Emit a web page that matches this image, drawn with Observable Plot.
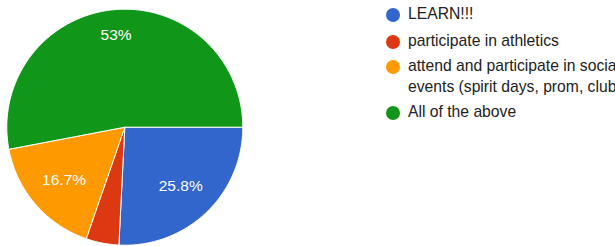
<!DOCTYPE html>
<html>
<head>
<meta charset="utf-8">
<script src="https://cdn.jsdelivr.net/npm/d3@7"></script>
<script src="https://cdn.jsdelivr.net/npm/@observablehq/plot@0.6"></script>
<style>
  html, body { margin: 0; padding: 0; background: #fff; overflow: hidden; }
  #wrap { position: relative; width: 615px; height: 246px; overflow: hidden; font-family: Arial, "Liberation Sans", sans-serif; }
  #chart { position: absolute; left: 0; top: 0; }
  .leg { position: absolute; left: 385px; white-space: nowrap; color: #222; font-size: 15.7px; line-height: 20.6px; }
  .leg .sw { position: absolute; left: 1px; top: 3.3px; width: 14px; height: 14px; border-radius: 50%; }
  .leg .tx { position: absolute; left: 23px; top: 0; }
</style>
</head>
<body>
<div id="wrap"><div id="chart"></div></div>
<script>
const categories = ["LEARN!!!", "participate in athletics", "attend and participate in social events (spirit days, prom, clubs)", "All of the above"];
const legendLines = [["LEARN!!!"], ["participate in athletics"], ["attend and participate in social", "events (spirit days, prom, clubs)"], ["All of the above"]];
const percents = [25.8, 4.5, 16.7, 53];
const colors = ["#3366cc", "#dc3912", "#ff9900", "#109618"];

const cx = 124.3, cy = 126.7, R = 118;
const labelFont = "15.5px Arial, 'Liberation Sans', sans-serif";

// build slice polygons (unit circle coords), clockwise from east
const total = d3.sum(percents);
const polys = [];
const labelData = [];
let a = 90;
const ctx = document.createElement("canvas").getContext("2d");
ctx.font = labelFont;
categories.forEach((c, i) => {
  const span = percents[i] / total * 360;
  const a0 = a, a1 = a + span;
  const n = Math.max(2, Math.ceil(span));
  polys.push({category: c, x: 0, y: 0, k: i});
  for (let j = 0; j <= n; j++) {
    const t = (a0 + (a1 - a0) * j / n) * Math.PI / 180;
    polys.push({category: c, x: Math.sin(t), y: Math.cos(t), k: i});
  }
  polys.push({category: c, x: 0, y: 0, k: i});
  if (percents[i] >= 5) {
    const text = `${percents[i]}%`;
    const mid = (a0 + a1) / 2 * Math.PI / 180;
    const ux = Math.sin(mid), uy = -Math.cos(mid); // screen direction
    const w = ctx.measureText(text).width, h = 11;
    const vx = Math.sign(ux) * w / 2, vy = Math.sign(uy) * h / 2;
    const T = 0.856 * R;
    const uv = ux * vx + uy * vy;
    const d = -uv + Math.sqrt(uv * uv - (vx * vx + vy * vy) + T * T);
    labelData.push({text, x: d * ux / R, y: -d * uy / R});
  }
  a = a1;
});

const plot = Plot.plot({
  width: 615,
  height: 246,
  margin: 0,
  x: {domain: [-1, 1], range: [cx - R, cx + R], axis: null},
  y: {domain: [-1, 1], range: [cy + R, cy - R], axis: null},
  color: {domain: categories, range: colors},
  style: {background: "white"},
  marks: [
    Plot.line(polys, {x: "x", y: "y", z: "k", fill: "category", stroke: "white", strokeWidth: 1, curve: "linear", strokeLinejoin: "miter"}),
    Plot.text(labelData, {x: "x", y: "y", text: "text", fill: "white", fontSize: 15.5, fontFamily: "Arial, 'Liberation Sans', sans-serif"})
  ]
});
document.getElementById("chart").appendChild(plot);

// legend
const wrap = document.getElementById("wrap");
const tops = [4.4, 31.4, 56.4, 102.4];
legendLines.forEach((lines, i) => {
  const row = document.createElement("div");
  row.className = "leg";
  row.style.top = tops[i] + "px";
  const sw = document.createElement("div");
  sw.className = "sw";
  sw.style.background = colors[i];
  row.appendChild(sw);
  const tx = document.createElement("div");
  tx.className = "tx";
  tx.innerHTML = lines.map(s => s.replace(/&/g, "&amp;")).join("<br>");
  row.appendChild(tx);
  wrap.appendChild(row);
});
</script>
</body>
</html>
